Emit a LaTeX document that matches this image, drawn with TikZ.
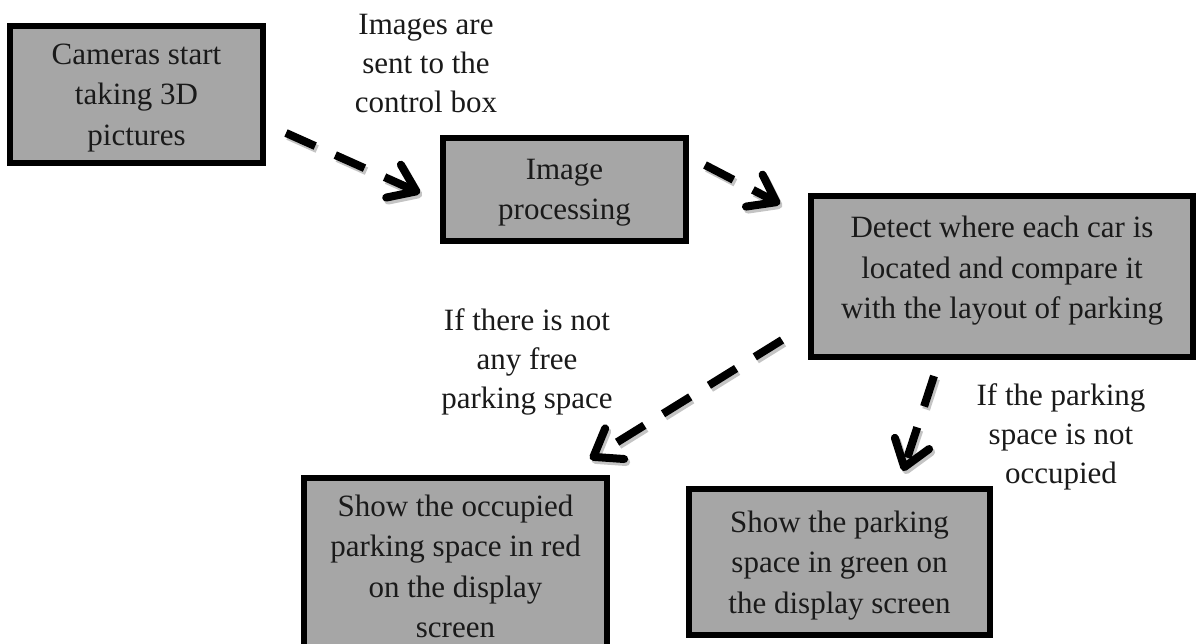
\documentclass[tikz,border=0pt]{standalone}
\usepackage{fontspec}
\setmainfont{Liberation Serif}
\usetikzlibrary{arrows.meta}
\definecolor{boxgray}{HTML}{A6A6A6}
\definecolor{shadowgray}{HTML}{C4C4C4}
\definecolor{txt}{HTML}{1A1A1A}
\tikzset{
  flowbox/.style={draw=black, line width=6pt, fill=boxgray, rectangle, inner sep=0pt,
    align=center, font=\fontsize{31}{40.5}\selectfont, text=txt, text depth=0pt},
  lbl/.style={align=center, font=\fontsize{31}{39}\selectfont, text=txt, inner sep=0pt},
  arrbase/.style={line width=8pt, dash pattern=on 32pt off 22pt,
    -{Straight Barb[length=25pt,width=36pt,round]}},
  arrmain/.style={arrbase, draw=black},
  arrshadow/.style={arrbase, draw=shadowgray, transform canvas={shift={(2pt,-3pt)}}},
}
\begin{document}
\begin{tikzpicture}[x=1pt,y=1pt]
\useasboundingbox (0,0) rectangle (1197,643);
\clip (0,0) rectangle (1197,643);

\node[flowbox, minimum width=253pt, minimum height=137pt] (b1) at (136.5,548.5)
  {Cameras start\\taking 3D\\pictures};
\node[flowbox, minimum width=243pt, minimum height=103pt] (b2) at (564.5,453.5)
  {Image\\processing};
\node[flowbox, minimum width=382pt, minimum height=161pt, text depth=18pt] (b3) at (1002,366.5)
  {Detect where each car is\\located and compare it\\with the layout of parking};
\node[flowbox, minimum width=303pt, minimum height=176pt] (b4) at (455.5,77)
  {Show the occupied\\parking space in red\\on the display\\screen};
\node[flowbox, minimum width=301pt, minimum height=146pt] (b5) at (839.5,81)
  {Show the parking\\space in green on\\the display screen};

\node[lbl] (l1) at (426,579.5) {Images are\\sent to the\\control box};
\node[lbl] (l2) at (527,281) {If there is not\\any free\\parking space};
\node[lbl] (l3) at (1061,206) {If the parking\\space is not\\occupied};

\foreach \s in {arrshadow,arrmain}{
  \draw[\s] ([shift={(20,-38.5)}]b1.east) -- ([shift={(-20,-3.5)}]b2.west);
  \draw[\s] ([shift={(16,24.5)}]b2.east) -- ([shift={(-28,-11)}]b3.north west);
  \draw[\s] ([shift={(-26,20)}]b3.south west) -- ([shift={(-20,16)}]b4.north east);
  \draw[\s] ([shift={(-68,-16)}]b3.south) -- ([shift={(63.5,15)}]b5.north);
}
\end{tikzpicture}
\end{document}
